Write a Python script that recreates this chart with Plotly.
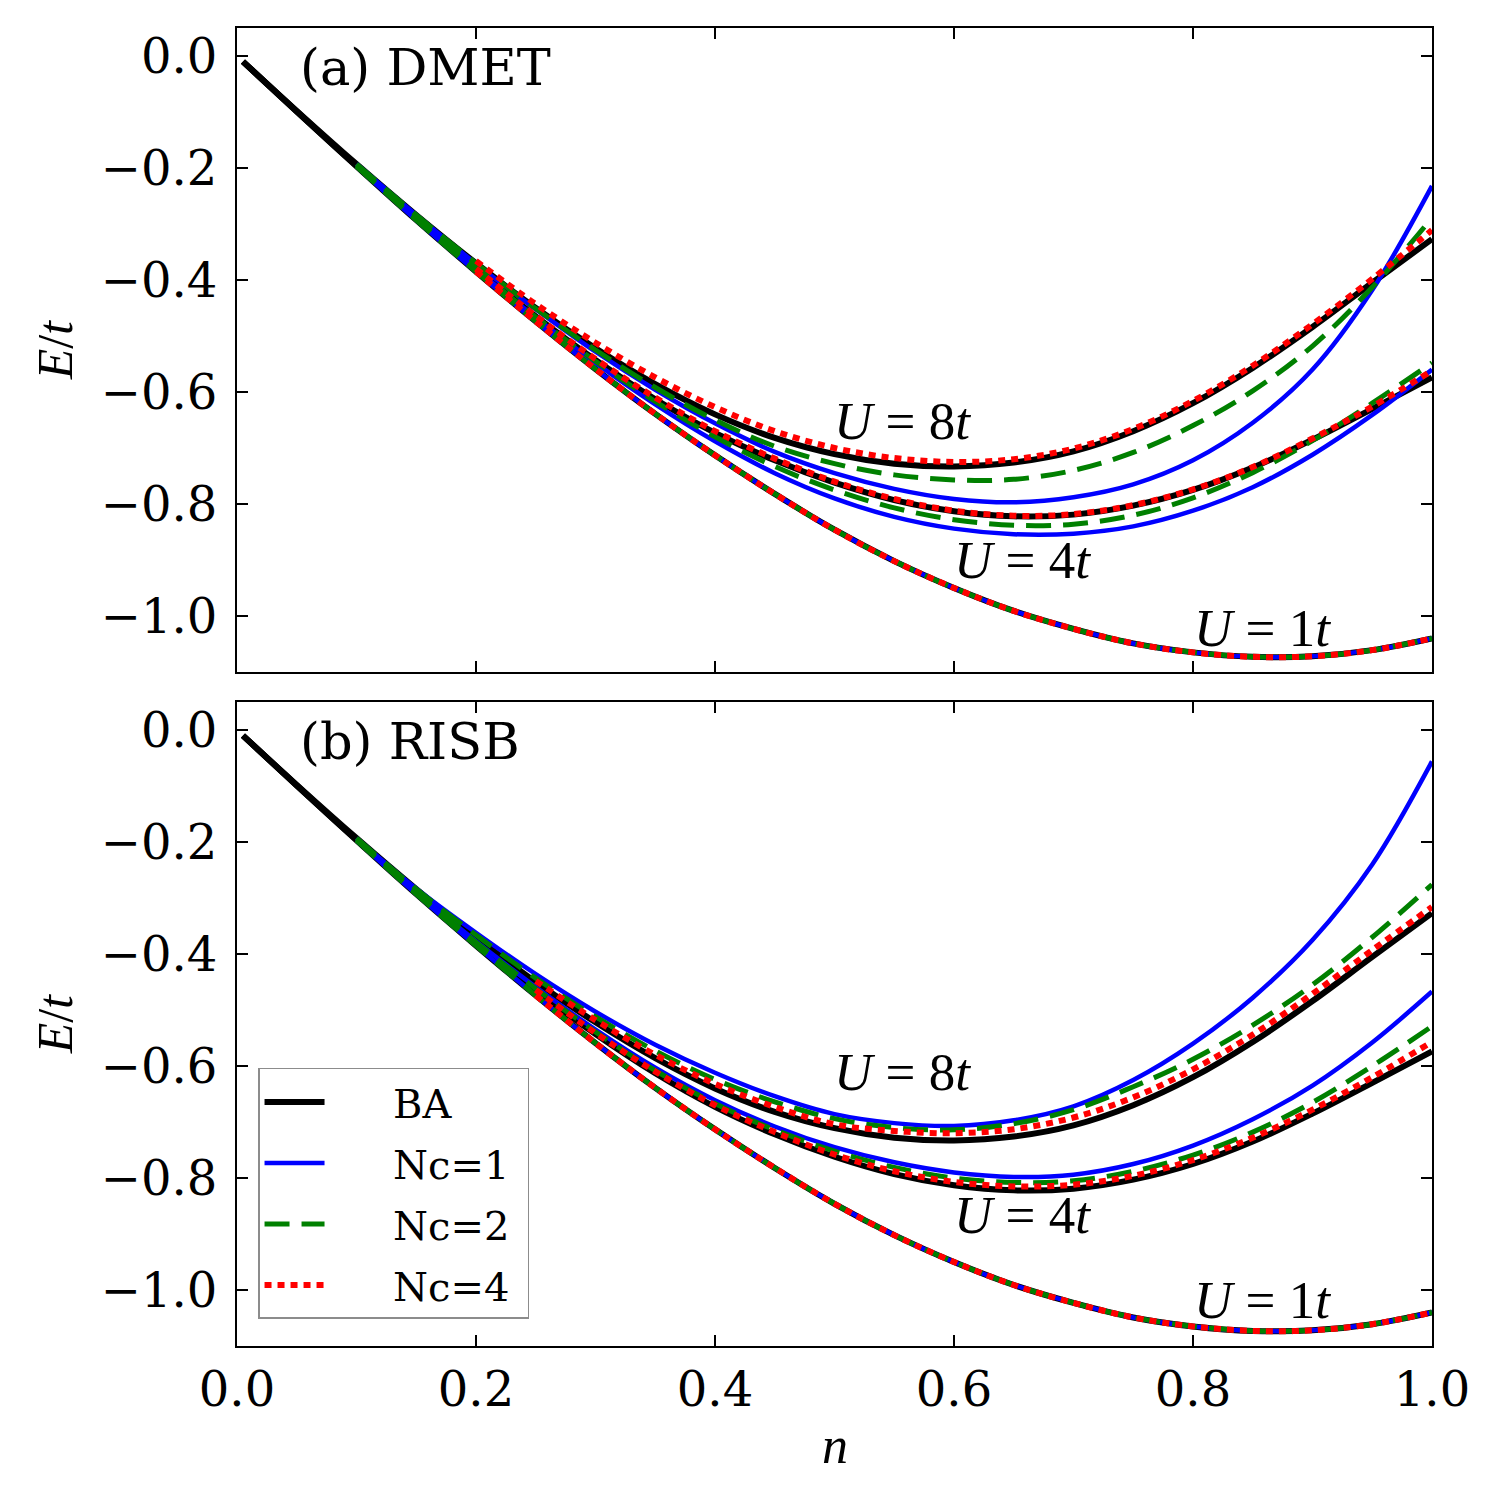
import plotly.graph_objects as go

# ---------------- data ----------------
n = [0.005, 0.05, 0.10, 0.15, 0.20, 0.25, 0.30, 0.35, 0.40, 0.45, 0.50,
     0.55, 0.60, 0.65, 0.70, 0.75, 0.80, 0.85, 0.90, 0.95, 1.00]

# Bethe ansatz (same in both panels)
BA_U1 = [-0.010, -0.099, -0.197, -0.293, -0.385, -0.474, -0.559, -0.639, -0.713, -0.782, -0.846,
         -0.902, -0.950, -0.991, -1.023, -1.049, -1.065, -1.073, -1.072, -1.061, -1.040]
BA_U4 = [-0.010, -0.099, -0.196, -0.290, -0.380, -0.465, -0.543, -0.613, -0.673, -0.722, -0.762,
         -0.793, -0.813, -0.822, -0.819, -0.803, -0.775, -0.735, -0.685, -0.630, -0.574]
BA_U8 = [-0.010, -0.098, -0.193, -0.284, -0.370, -0.450, -0.522, -0.586, -0.640, -0.682, -0.711,
         -0.728, -0.733, -0.726, -0.706, -0.670, -0.620, -0.557, -0.484, -0.405, -0.327]

N = None
# (a) DMET
DMET_Nc1_U1 = [N, N, -0.197, -0.293, -0.385, -0.474, -0.559, -0.639, -0.713, -0.782, -0.846,
               -0.902, -0.950, -0.991, -1.023, -1.049, -1.065, -1.073, -1.072, -1.061, -1.040]
DMET_Nc2_U1 = [N, N, -0.197, -0.293, -0.385, -0.474, -0.559, -0.639, -0.713, -0.782, -0.846,
               -0.902, -0.950, -0.991, -1.023, -1.049, -1.065, -1.073, -1.072, -1.061, -1.040]
DMET_Nc4_U1 = [N, N, N, N, -0.385, -0.474, -0.559, -0.639, -0.713, -0.782, -0.846,
               -0.902, -0.950, -0.991, -1.023, -1.049, -1.065, -1.073, -1.072, -1.061, -1.040]
DMET_Nc1_U4 = [N, N, -0.196, -0.290, -0.381, -0.467, -0.548, -0.622, -0.688, -0.745, -0.790,
               -0.823, -0.844, -0.854, -0.853, -0.840, -0.812, -0.770, -0.712, -0.641, -0.560]
DMET_Nc2_U4 = [N, N, -0.196, -0.290, -0.380, -0.466, -0.545, -0.617, -0.680, -0.733, -0.775,
               -0.807, -0.828, -0.838, -0.836, -0.820, -0.789, -0.744, -0.687, -0.620, -0.548]
DMET_Nc4_U4 = [N, N, N, N, -0.380, -0.464, -0.541, -0.610, -0.670, -0.719, -0.760,
               -0.791, -0.812, -0.821, -0.818, -0.802, -0.774, -0.734, -0.683, -0.626, -0.562]
DMET_Nc1_U8 = [N, N, -0.193, -0.284, -0.371, -0.452, -0.528, -0.596, -0.656, -0.707, -0.745,
               -0.773, -0.791, -0.797, -0.788, -0.765, -0.722, -0.655, -0.560, -0.418, -0.232]
DMET_Nc2_U8 = [N, N, -0.193, -0.284, -0.370, -0.451, -0.525, -0.592, -0.650, -0.697, -0.728,
               -0.748, -0.757, -0.756, -0.740, -0.708, -0.660, -0.598, -0.518, -0.413, -0.289]
DMET_Nc4_U8 = [N, N, N, N, -0.366, -0.443, -0.512, -0.574, -0.627, -0.670, -0.700,
               -0.718, -0.725, -0.720, -0.701, -0.666, -0.616, -0.553, -0.479, -0.398, -0.311]

# (b) RISB
RISB_Nc1_U1 = [N, N, -0.197, -0.293, -0.385, -0.474, -0.559, -0.639, -0.713, -0.782, -0.846,
               -0.902, -0.950, -0.991, -1.023, -1.049, -1.065, -1.073, -1.072, -1.061, -1.040]
RISB_Nc2_U1 = [N, N, -0.197, -0.293, -0.385, -0.474, -0.559, -0.639, -0.713, -0.782, -0.846,
               -0.902, -0.950, -0.991, -1.023, -1.049, -1.065, -1.073, -1.072, -1.061, -1.040]
RISB_Nc4_U1 = [N, N, N, N, N, -0.474, -0.559, -0.639, -0.713, -0.782, -0.846,
               -0.902, -0.950, -0.991, -1.023, -1.049, -1.065, -1.073, -1.072, -1.061, -1.040]
RISB_Nc1_U4 = [N, N, -0.196, -0.289, -0.377, -0.459, -0.535, -0.603, -0.661, -0.708, -0.745,
               -0.772, -0.790, -0.798, -0.794, -0.775, -0.742, -0.695, -0.635, -0.558, -0.467]
RISB_Nc2_U4 = [N, N, -0.196, -0.290, -0.379, -0.462, -0.539, -0.608, -0.667, -0.714, -0.752,
               -0.781, -0.800, -0.808, -0.805, -0.788, -0.759, -0.718, -0.665, -0.600, -0.529]
RISB_Nc4_U4 = [N, N, N, N, N, -0.464, -0.541, -0.610, -0.670, -0.718, -0.758,
               -0.788, -0.807, -0.815, -0.812, -0.796, -0.768, -0.728, -0.678, -0.620, -0.557]
RISB_Nc1_U8 = [N, N, -0.193, -0.283, -0.362, -0.436, -0.503, -0.562, -0.612, -0.654, -0.686,
               -0.702, -0.707, -0.697, -0.672, -0.625, -0.560, -0.478, -0.375, -0.240, -0.056]
RISB_Nc2_U8 = [N, N, -0.193, -0.284, -0.366, -0.443, -0.512, -0.573, -0.624, -0.664, -0.694,
               -0.710, -0.714, -0.703, -0.678, -0.637, -0.588, -0.527, -0.455, -0.370, -0.276]
RISB_Nc4_U8 = [N, N, N, N, N, -0.448, -0.518, -0.580, -0.632, -0.673, -0.704,
               -0.716, -0.720, -0.713, -0.692, -0.656, -0.606, -0.544, -0.471, -0.393, -0.316]

series_names = ["BA", "Nc=1", "Nc=2", "Nc=4"]
panels = {
    "a": {"BA": [BA_U1, BA_U4, BA_U8],
          "Nc=1": [DMET_Nc1_U1, DMET_Nc1_U4, DMET_Nc1_U8],
          "Nc=2": [DMET_Nc2_U1, DMET_Nc2_U4, DMET_Nc2_U8],
          "Nc=4": [DMET_Nc4_U1, DMET_Nc4_U4, DMET_Nc4_U8]},
    "b": {"BA": [BA_U1, BA_U4, BA_U8],
          "Nc=1": [RISB_Nc1_U1, RISB_Nc1_U4, RISB_Nc1_U8],
          "Nc=2": [RISB_Nc2_U1, RISB_Nc2_U4, RISB_Nc2_U8],
          "Nc=4": [RISB_Nc4_U1, RISB_Nc4_U4, RISB_Nc4_U8]},
}
panel_titles = ["(a) DMET", "(b) RISB"]
u_labels = ["<i>U</i> = 8<i>t</i>", "<i>U</i> = 4<i>t</i>", "<i>U</i> = 1<i>t</i>"]
u_label_pos_a = [(0.557, -0.651), (0.657, -0.900), (0.858, -1.021)]
u_label_pos_b = [(0.557, -0.611), (0.657, -0.866), (0.858, -1.018)]
y_ticks = [0.0, -0.2, -0.4, -0.6, -0.8, -1.0]
x_ticks = [0.0, 0.2, 0.4, 0.6, 0.8, 1.0]

# ---------------- styles ----------------
styles = {
    "BA":   dict(color="black", width=6, dash="solid"),
    "Nc=1": dict(color="#0000ff", width=4.5, dash="solid"),
    "Nc=2": dict(color="#008000", width=5, dash="25px,12px"),
    "Nc=4": dict(color="#ff0000", width=6, dash="7px,6px"),
}

SERIF = "DejaVu Serif"
MATH = "Liberation Serif"
PAD = "\u00a0" * 5

fig = go.Figure()
for p, (xa, ya) in zip(["a", "b"], [("x", "y"), ("x2", "y2")]):
    for s in series_names:
        for k, yv in enumerate(panels[p][s]):
            fig.add_trace(go.Scatter(
                x=n, y=yv, mode="lines", xaxis=xa, yaxis=ya,
                line=dict(shape="spline", smoothing=1.0, **styles[s]),
                name=PAD + s + "\u00a0", legendgroup=s,
                showlegend=(p == "b" and k == 0),
                connectgaps=False, hoverinfo="skip"))

axis_common = dict(showline=True, linewidth=2, linecolor="black", mirror="allticks",
                   ticks="inside", ticklen=11, tickwidth=1.5, tickcolor="black",
                   showgrid=False, zeroline=False)

fig.update_layout(
    width=1500, height=1500,
    paper_bgcolor="white", plot_bgcolor="white",
    margin=dict(l=237, r=68, t=28, b=154, autoexpand=False),
    showlegend=True,
    xaxis=dict(domain=[0, 1], anchor="y", range=[0, 1], tickvals=x_ticks,
               showticklabels=False, **axis_common),
    yaxis=dict(domain=[0.5114, 1], anchor="x", range=[-1.1, 0.05], tickvals=y_ticks,
               tickformat=".1f", tickfont=dict(family=SERIF, size=48, color="black"),
               ticklabelstandoff=8, **axis_common),
    xaxis2=dict(domain=[0, 1], anchor="y2", range=[0, 1], tickvals=x_ticks,
                tickformat=".1f", tickfont=dict(family=SERIF, size=48, color="black"),
                **axis_common),
    yaxis2=dict(domain=[0, 0.4886], anchor="x2", range=[-1.1, 0.05], tickvals=y_ticks,
                tickformat=".1f", tickfont=dict(family=SERIF, size=48, color="black"),
                ticklabelstandoff=8, **axis_common),
    legend=dict(x=0.0176, y=0.211, xanchor="left", yanchor="top",
                bgcolor="white", bordercolor="#8c8c8c", borderwidth=1.5,
                font=dict(family=SERIF, size=40, color="black"),
                tracegroupgap=6, itemwidth=60),
)

annotations = []
for i, (xr, yr) in enumerate([("x", "y"), ("x2", "y2")]):
    annotations.append(dict(text=panel_titles[i], xref=xr + " domain", yref=yr + " domain",
                            x=0.051, y=0.939, xanchor="left", yanchor="middle", showarrow=False,
                            font=dict(family=SERIF, size=51, color="black")))
    annotations.append(dict(text="<i>E</i>/<i>t</i>", xref=xr + " domain", yref=yr + " domain",
                            x=-0.152, y=0.5, textangle=-90, xanchor="center", yanchor="middle",
                            showarrow=False, font=dict(family=MATH, size=50, color="black")))
    pos = u_label_pos_a if i == 0 else u_label_pos_b
    for lab, (ux, uy) in zip(u_labels, pos):
        annotations.append(dict(text=lab, xref=xr, yref=yr, x=ux, y=uy,
                                xanchor="center", yanchor="middle", showarrow=False,
                                font=dict(family=MATH, size=53, color="black")))
annotations.append(dict(text="<i>n</i>", xref="x2 domain", yref="y2 domain", x=0.5, y=-0.154,
                        xanchor="center", yanchor="middle", showarrow=False,
                        font=dict(family=MATH, size=52, color="black")))
fig.update_layout(annotations=annotations)

fig.write_html("out.html")
